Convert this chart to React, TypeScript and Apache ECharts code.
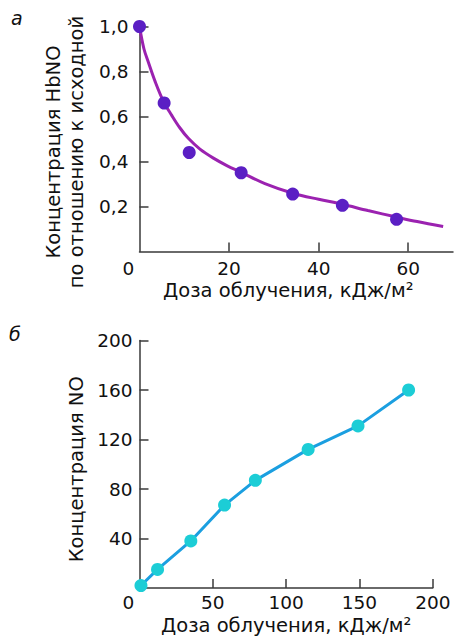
import React, { useEffect, useRef } from "react";
import * as echarts from "echarts";

// Panel а: relative HbNO concentration vs dose
const dosePointsA = [0, 5.5, 11.1, 22.7, 34.2, 45.3, 57.4];
const hbnoPointsA = [1.0, 0.66, 0.44, 0.35, 0.255, 0.205, 0.143];
const curveDoseA = [0, 1, 2, 3.5, 5.4, 7.2, 9, 10.9, 13.5, 16.5, 19.5, 22.7, 28, 34.4, 40, 45.3, 51, 57.4, 62, 67.8];
const curveHbnoA = [1.0, 0.9, 0.84, 0.755, 0.665, 0.605, 0.55, 0.503, 0.455, 0.415, 0.382, 0.352, 0.302, 0.258, 0.232, 0.21, 0.182, 0.153, 0.133, 0.111];
const xTicksA = [0, 20, 40, 60];
const yTicksA = [0.2, 0.4, 0.6, 0.8, 1.0];

// Panel б: NO concentration vs dose
const dosePointsB = [1, 12.3, 35, 58, 79, 115, 149, 183.5];
const noPointsB = [2, 15, 38, 67, 87, 112, 131, 160];
const xTicksB = [0, 50, 100, 150, 200];
const yTicksB = [40, 80, 120, 160, 200];

const xTitle = "Доза облучения, кДж/м²";
const yTitleA = "Концентрация HbNO\nпо отношению к исходной";
const yTitleB = "Концентрация NO";

const FONT = "DejaVu Sans";
const AXIS_COLOR = "#3a3a3a";
const TEXT_COLOR = "#111";

export default function App() {
  const ref = useRef<HTMLDivElement>(null);

  useEffect(() => {
    if (!ref.current) return;
    const chart = echarts.init(ref.current, null, { renderer: "svg" });

    const zeroShift = (v: number, s: string) => (v === 0 ? "{z|" + s + "}" : s);
    const labelBase = {
      color: TEXT_COLOR,
      fontFamily: FONT,
      fontSize: 18.5,
    };
    const nameBase = {
      color: TEXT_COLOR,
      fontFamily: FONT,
      fontSize: 19.5,
    };
    const axisLine = { show: true, lineStyle: { color: AXIS_COLOR, width: 1.5 } };
    const tickStyle = { inside: true, length: 9, lineStyle: { color: AXIS_COLOR, width: 1.5 } };

    chart.setOption({
      animation: false,
      backgroundColor: "#fff",
      grid: [
        { left: 139.5, top: 26.5, width: 313.5, height: 225, outerBoundsMode: "none", containLabel: false },
        { left: 139.5, top: 340.5, width: 293.3, height: 247.5, outerBoundsMode: "none", containLabel: false },
      ],
      xAxis: [
        {
          gridIndex: 0,
          type: "value",
          min: 0,
          max: 70,
          interval: 20,
          splitLine: { show: false },
          axisLine,
          axisTick: { ...tickStyle, customValues: xTicksA.filter((v) => v !== 0) },
          axisLabel: {
            ...labelBase,
            margin: 7,
            customValues: xTicksA,
            formatter: (v: number) => zeroShift(v, String(v)),
            rich: { z: { ...labelBase, padding: [0, 22, 0, 0] } },
          },
          name: xTitle,
          nameLocation: "middle",
          nameGap: 29,
          nameTextStyle: { ...nameBase, padding: [0, 16, 0, 0] },
        },
        {
          gridIndex: 1,
          type: "value",
          min: 0,
          max: 200,
          interval: 50,
          splitLine: { show: false },
          axisLine,
          axisTick: { ...tickStyle, customValues: xTicksB.filter((v) => v !== 0) },
          axisLabel: {
            ...labelBase,
            margin: 5,
            customValues: xTicksB,
            formatter: (v: number) => zeroShift(v, String(v)),
            rich: { z: { ...labelBase, padding: [0, 22, 0, 0] } },
          },
          name: xTitle,
          nameLocation: "middle",
          nameGap: 27,
          nameTextStyle: { ...nameBase },
        },
      ],
      yAxis: [
        {
          gridIndex: 0,
          type: "value",
          min: 0,
          max: 1,
          interval: 0.2,
          splitLine: { show: false },
          axisLine,
          axisTick: { ...tickStyle, customValues: yTicksA },
          axisLabel: {
            ...labelBase,
            margin: 11,
            customValues: yTicksA,
            formatter: (v: number) => v.toFixed(1).replace(".", ","),
          },
          name: yTitleA,
          nameLocation: "middle",
          nameRotate: 90,
          nameGap: 48,
          nameTextStyle: { ...nameBase, lineHeight: 23, padding: [0, 26, 0, 0] },
        },
        {
          gridIndex: 1,
          type: "value",
          min: 0,
          max: 200,
          interval: 40,
          splitLine: { show: false },
          axisLine,
          axisTick: { ...tickStyle, customValues: yTicksB },
          axisLabel: {
            ...labelBase,
            margin: 7,
            customValues: yTicksB,
          },
          name: yTitleB,
          nameLocation: "middle",
          nameRotate: 90,
          nameGap: 49,
          nameTextStyle: { ...nameBase, padding: [0, 10, 0, 0] },
        },
      ],
      graphic: [
        {
          type: "text",
          left: 11,
          top: 8,
          style: { text: "а", fontFamily: FONT, fontStyle: "italic", fontSize: 19, fill: TEXT_COLOR },
        },
        {
          type: "text",
          left: 9,
          top: 324,
          style: { text: "б", fontFamily: FONT, fontStyle: "italic", fontSize: 19, fill: TEXT_COLOR },
        },
      ],
      series: [
        {
          type: "line",
          xAxisIndex: 0,
          yAxisIndex: 0,
          data: curveDoseA.map((d, i) => [d, curveHbnoA[i]]),
          smooth: 0.35,
          showSymbol: false,
          lineStyle: { color: "#9b22b0", width: 3 },
          z: 2,
        },
        {
          type: "scatter",
          xAxisIndex: 0,
          yAxisIndex: 0,
          data: dosePointsA.map((d, i) => [d, hbnoPointsA[i]]),
          symbolSize: 13,
          itemStyle: { color: "#5b1fc4", opacity: 1 },
          z: 3,
        },
        {
          type: "line",
          xAxisIndex: 1,
          yAxisIndex: 1,
          data: dosePointsB.map((d, i) => [d, noPointsB[i]]),
          showSymbol: false,
          lineStyle: { color: "#1b9fe0", width: 3 },
          z: 2,
        },
        {
          type: "scatter",
          xAxisIndex: 1,
          yAxisIndex: 1,
          data: dosePointsB.map((d, i) => [d, noPointsB[i]]),
          symbolSize: 13,
          itemStyle: { color: "#1ccdd6", opacity: 1 },
          z: 3,
        },
      ],
    });

    return () => chart.dispose();
  }, []);

  return (
    <div
      ref={ref}
      style={{ position: "absolute", left: 0, top: 0, width: 457, height: 639, background: "#fff" }}
    />
  );
}
